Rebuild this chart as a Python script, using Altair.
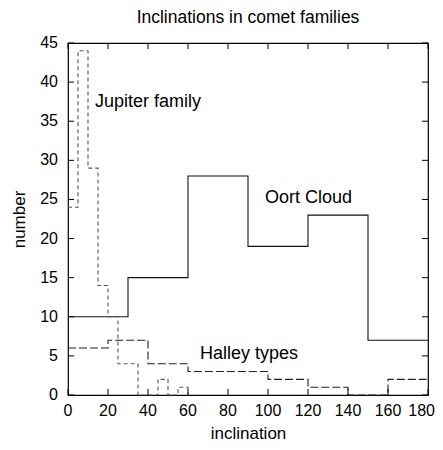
import altair as alt
import pandas as pd

# Histogram data
jup_edges = [0, 5, 10, 15, 20, 25, 30, 35, 40, 45, 50, 55, 60]
jup_counts = [24, 44, 29, 14, 10, 4, 4, 0, 0, 2, 0, 1]

oort_edges = [0, 30, 60, 90, 120, 150, 180]
oort_counts = [10, 15, 28, 19, 23, 7]

halley_edges = [0, 20, 40, 60, 80, 100, 120, 140, 160, 180]
halley_counts = [6, 7, 4, 3, 3, 2, 1, 0, 2]

x_ticks = [0, 20, 40, 60, 80, 100, 120, 140, 160, 180]
y_ticks = [0, 5, 10, 15, 20, 25, 30, 35, 40, 45]

labels = ["Jupiter family", "Oort Cloud", "Halley types"]
label_x = [13.5, 98.5, 66]
label_y = [37.5, 25.2, 5.2]

FONT = "Liberation Sans"
W, H = 360, 352


def steps(name, edges, counts, end_value):
    xs = list(edges)
    ys = list(counts) + [end_value]
    return pd.DataFrame({"x": xs, "y": ys, "s": name})


jup = steps("Jupiter family", jup_edges, jup_counts, 0)
oort = steps("Oort Cloud", oort_edges, oort_counts, oort_counts[-1])
hal = steps("Halley types", halley_edges, halley_counts, halley_counts[-1])

xs = alt.Scale(domain=[0, 180], nice=False, zero=False)
ys = alt.Scale(domain=[0, 45], nice=False, zero=False)

xaxis = alt.Axis(labels=False, ticks=False, domain=False, grid=False,
                 title="inclination", titleFontSize=17, titleFont=FONT,
                 titleFontWeight="normal", titleColor="#000", titlePadding=30)
yaxis = alt.Axis(labels=False, ticks=False, domain=False, grid=False,
                 title="number", titleFontSize=17, titleFont=FONT,
                 titleFontWeight="normal", titleColor="#000", titlePadding=40)

base_x = alt.X("x:Q", scale=xs, axis=xaxis)
base_y = alt.Y("y:Q", scale=ys, axis=yaxis)

oort_line = alt.Chart(oort).mark_line(interpolate="step-after", color="#111", strokeWidth=1.1).encode(
    x=base_x, y=base_y)
jup_line = alt.Chart(jup).mark_line(interpolate="step-after", color="#555", strokeWidth=1.1,
                                    strokeDash=[4, 3]).encode(x="x:Q", y="y:Q")
hal_line = alt.Chart(hal).mark_line(interpolate="step-after", color="#222", strokeWidth=1.1,
                                    strokeDash=[8, 3]).encode(x="x:Q", y="y:Q")

xt = pd.DataFrame({"t": x_ticks})
yt = pd.DataFrame({"t": y_ticks})
tl = 6
tick_bottom = alt.Chart(xt).mark_rule(color="#000").encode(
    x="t:Q", y=alt.value(H), y2=alt.value(H - tl))
tick_top = alt.Chart(xt).mark_rule(color="#000").encode(
    x="t:Q", y=alt.value(0), y2=alt.value(tl))
tick_left = alt.Chart(yt).mark_rule(color="#000").encode(
    y="t:Q", x=alt.value(0), x2=alt.value(tl))
tick_right = alt.Chart(yt).mark_rule(color="#000").encode(
    y="t:Q", x=alt.value(W), x2=alt.value(W - tl))

# tick labels
xl_main = alt.Chart(pd.DataFrame({"t": x_ticks[:-1]})).mark_text(
    align="center", baseline="middle", font=FONT, fontSize=16, color="#000").encode(
    x="t:Q", y=alt.value(H + 16), text="t:Q")
xl_last = alt.Chart(pd.DataFrame({"t": x_ticks[-1:]})).mark_text(
    align="right", baseline="middle", font=FONT, fontSize=16, color="#000", dx=7).encode(
    x="t:Q", y=alt.value(H + 16), text="t:Q")
yl = alt.Chart(yt).mark_text(align="right", baseline="middle", font=FONT, fontSize=16,
                             color="#000").encode(
    y="t:Q", x=alt.value(-10), text="t:Q")

lab = pd.DataFrame({"label": labels, "x": label_x, "y": label_y})
texts = alt.Chart(lab).mark_text(align="left", baseline="middle", font=FONT,
                                 fontSize=18, color="#000").encode(
    x="x:Q", y="y:Q", text="label:N")

chart = alt.layer(oort_line, jup_line, hal_line, tick_bottom, tick_top, tick_left, tick_right,
                  xl_main, xl_last, yl, texts).properties(
    width=W, height=H,
    title=alt.TitleParams("Inclinations in comet families", font=FONT, fontSize=17.5,
                          fontWeight="normal", color="#000", offset=9),
    autosize=alt.AutoSizeParams(type="none"),
    padding={"left": 60, "top": 35, "right": 7, "bottom": 47},
).configure(background="white").configure_view(stroke="#000", strokeWidth=1.2)

chart.save("out.html", embed_options={"renderer": "svg", "actions": False})
